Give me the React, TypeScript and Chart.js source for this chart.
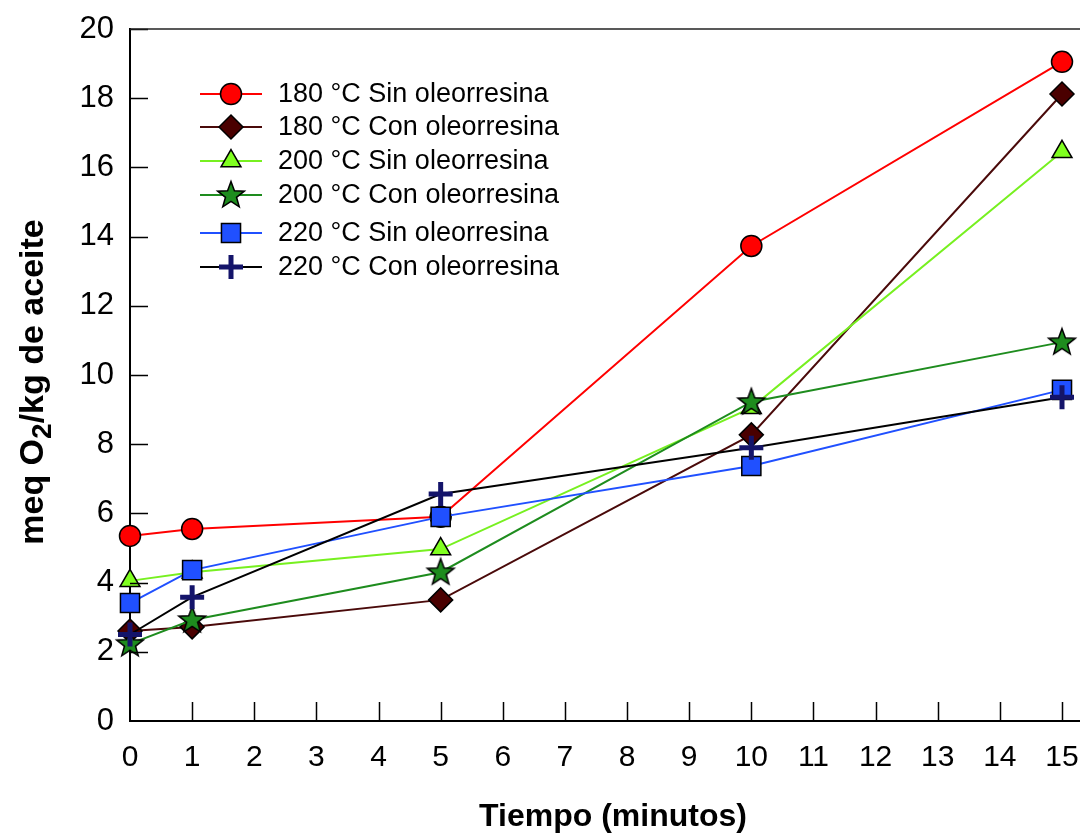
import React, { useEffect, useRef } from "react";
import { Chart, registerables } from "chart.js";
import { drawPoint } from "chart.js/helpers";

Chart.register(...registerables);

const timeMinutes = [0, 1, 5, 10, 15];
const s180Sin = [5.35, 5.55, 5.9, 13.73, 19.05];
const s180Con = [2.6, 2.72, 3.5, 8.27, 18.12];
const s200Sin = [4.05, 4.3, 4.97, 9.05, 16.45];
const s200Con = [2.23, 2.92, 4.3, 9.22, 10.95];
const s220Sin = [3.41, 4.36, 5.9, 7.37, 9.57];
const s220Con = [2.5, 3.58, 6.56, 7.9, 9.36];
const seriesLabels = [
  "180 °C Sin oleorresina",
  "180 °C Con oleorresina",
  "200 °C Sin oleorresina",
  "200 °C Con oleorresina",
  "220 °C Sin oleorresina",
  "220 °C Con oleorresina",
];
const xTitle = "Tiempo (minutos)";
const yTitleParts = ["meq O", "2", "/kg de aceite"];

const FONT = "'Liberation Sans', Arial, Helvetica, sans-serif";

function makeStar(): HTMLCanvasElement {
  const c = document.createElement("canvas");
  c.width = 32;
  c.height = 32;
  const g = c.getContext("2d")!;
  const cx = 16, cy = 16.5, R = 14, r = 5.8;
  g.beginPath();
  for (let i = 0; i < 10; i++) {
    const rad = i % 2 === 0 ? R : r;
    const a = -Math.PI / 2 + (i * Math.PI) / 5;
    const px = cx + rad * Math.cos(a);
    const py = cy + rad * Math.sin(a);
    if (i === 0) g.moveTo(px, py);
    else g.lineTo(px, py);
  }
  g.closePath();
  g.fillStyle = "#1e8c1e";
  g.fill();
  g.lineWidth = 1.5;
  g.strokeStyle = "#000";
  g.lineJoin = "miter";
  g.stroke();
  return c;
}

export default function App() {
  const ref = useRef<HTMLCanvasElement | null>(null);

  useEffect(() => {
    if (!ref.current) return;
    const star = makeStar();
    const styles = [
      { line: "#ff0000", fill: "#ff0000", border: "#000", style: "circle", radius: 10.5, bw: 1.5 },
      { line: "#4a0a0a", fill: "#4a0000", border: "#000", style: "rectRot", radius: 12, bw: 1.5 },
      { line: "#77f020", fill: "#80ff20", border: "#000", style: "triangle", radius: 11.5, bw: 1.5 },
      { line: "#1e8c1e", fill: "#1e8c1e", border: "#000", style: star as any, radius: 13, bw: 1.5 },
      { line: "#2050ff", fill: "#2050ff", border: "#000", style: "rect", radius: 13.5, bw: 1.5 },
      { line: "#000000", fill: "#14146a", border: "#14146a", style: "cross", radius: 12, bw: 5 },
    ];
    const values = [s180Sin, s180Con, s200Sin, s200Con, s220Sin, s220Con];

    const datasets = values.map((vals, i) => ({
      label: seriesLabels[i],
      data: vals.map((v, j) => ({ x: timeMinutes[j], y: v })),
      borderColor: styles[i].line,
      backgroundColor: styles[i].fill,
      borderWidth: 2,
      pointStyle: styles[i].style,
      pointRadius: styles[i].radius,
      pointHoverRadius: styles[i].radius,
      pointBackgroundColor: styles[i].fill,
      pointBorderColor: styles[i].border,
      pointBorderWidth: styles[i].bw,
      tension: 0,
      clip: false as any,
      order: 5 - i,
    }));

    const decor = {
      id: "decor",
      afterDraw(chart: any) {
        const ctx = chart.ctx as CanvasRenderingContext2D;
        const { left, right, top, bottom } = chart.chartArea;
        const xs = chart.scales.x;
        const ys = chart.scales.y;
        const W = chart.width;
        ctx.save();
        // inward ticks
        ctx.strokeStyle = "#000";
        ctx.lineWidth = 1.5;
        ctx.beginPath();
        xs.ticks.forEach((t: any) => {
          if (t.value === 0) return;
          const px = Math.round(xs.getPixelForValue(t.value)) + 0.5;
          ctx.moveTo(px, bottom);
          ctx.lineTo(px, bottom - 19);
        });
        ys.ticks.forEach((t: any) => {
          if (t.value === 0) return;
          const py = Math.round(ys.getPixelForValue(t.value)) + 0.5;
          ctx.moveTo(left, py);
          ctx.lineTo(left + 18, py);
        });
        ctx.stroke();
        // top frame and extended bottom axis
        ctx.lineWidth = 1.5;
        ctx.strokeStyle = "#222";
        ctx.beginPath();
        ctx.moveTo(left, top);
        ctx.lineTo(W, top);
        ctx.stroke();
        ctx.lineWidth = 2;
        ctx.strokeStyle = "#000";
        ctx.beginPath();
        ctx.moveTo(right, bottom);
        ctx.lineTo(W, bottom);
        ctx.stroke();

        // x title
        ctx.fillStyle = "#000";
        ctx.font = `bold 32px ${FONT}`;
        ctx.textAlign = "center";
        ctx.textBaseline = "alphabetic";
        ctx.fillText(xTitle, (left + right) / 2 + 17, 826);

        // y title (rotated, with subscript)
        ctx.save();
        ctx.translate(43, (top + bottom) / 2 + 7);
        ctx.rotate(-Math.PI / 2);
        ctx.textAlign = "left";
        ctx.textBaseline = "alphabetic";
        const big = `bold 34px ${FONT}`;
        const small = `bold 28px ${FONT}`;
        ctx.font = big;
        const w0 = ctx.measureText(yTitleParts[0]).width;
        const w2 = ctx.measureText(yTitleParts[2]).width;
        ctx.font = small;
        const w1 = ctx.measureText(yTitleParts[1]).width;
        let cx = -(w0 + w1 + w2) / 2;
        ctx.font = big;
        ctx.fillText(yTitleParts[0], cx, 0);
        cx += w0;
        ctx.font = small;
        ctx.fillText(yTitleParts[1], cx, 8);
        cx += w1;
        ctx.font = big;
        ctx.fillText(yTitleParts[2], cx, 0);
        ctx.restore();

        // legend
        const rowOffsets = [65, 98, 132, 166, 204, 238];
        ctx.font = `27px ${FONT}`;
        ctx.textAlign = "left";
        ctx.textBaseline = "middle";
        styles.forEach((s, i) => {
          const y = top + rowOffsets[i];
          ctx.strokeStyle = s.line;
          ctx.lineWidth = 2;
          ctx.beginPath();
          ctx.moveTo(200, y);
          ctx.lineTo(262, y);
          ctx.stroke();
          ctx.fillStyle = s.fill;
          ctx.strokeStyle = s.border;
          ctx.lineWidth = s.bw;
          drawPoint(ctx, { pointStyle: s.style, radius: s.radius, borderWidth: s.bw, rotation: 0 } as any, 231, y);
          ctx.fillStyle = "#000";
          ctx.fillText(seriesLabels[i], 278, y + 1);
        });
        ctx.restore();
      },
    };

    const chart = new Chart(ref.current, {
      type: "line",
      data: { datasets: datasets as any },
      options: {
        animation: false,
        responsive: false,
        devicePixelRatio: 1,
        layout: { padding: { top: 29, right: 18, bottom: 0, left: 0 } },
        plugins: {
          legend: { display: false },
          tooltip: { enabled: false },
          title: { display: false },
        },
        scales: {
          x: {
            type: "linear",
            min: 0,
            max: 15,
            offset: false,
            grid: { display: false, drawTicks: false },
            border: { display: true, color: "#000", width: 2 },
            ticks: {
              stepSize: 1,
              color: "#000",
              font: { family: FONT, size: 30 },
              padding: 19,
              maxRotation: 0,
              autoSkip: false,
            },
            afterFit(scale: any) {
              scale.height = 113;
              scale.paddingLeft = 0;
              scale.paddingRight = 0;
            },
          },
          y: {
            type: "linear",
            min: 0,
            max: 20,
            grid: { display: false, drawTicks: false },
            border: { display: true, color: "#000", width: 2 },
            ticks: {
              stepSize: 2,
              color: "#000",
              font: { family: FONT, size: 31 },
              padding: 16,
            },
            afterFit(scale: any) {
              scale.width = 130;
              scale.paddingTop = 0;
              scale.paddingBottom = 0;
            },
          },
        },
      },
      plugins: [decor],
    });
    return () => chart.destroy();
  }, []);

  return (
    <div style={{ position: "absolute", left: 0, top: 0, width: 1080, height: 834, background: "#fff" }}>
      <canvas ref={ref} width={1080} height={834} style={{ display: "block" }} />
    </div>
  );
}
